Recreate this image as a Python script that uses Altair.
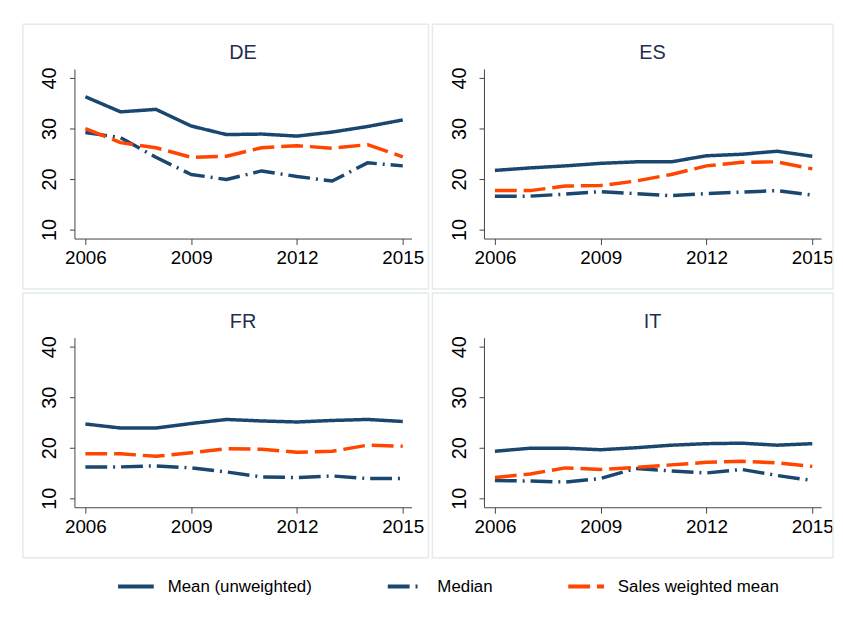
import altair as alt
import pandas as pd

years = list(range(2006, 2016))
countries = ["DE", "ES", "FR", "IT"]
series_names = ["Mean (unweighted)", "Median", "Sales weighted mean"]

de_mean = [36.3, 33.3, 33.8, 30.5, 28.8, 28.9, 28.5, 29.3, 30.4, 31.7]
de_median = [29.2, 28.2, 24.3, 20.9, 19.9, 21.6, 20.5, 19.6, 23.2, 22.6]
de_sales = [30.0, 27.2, 26.2, 24.3, 24.5, 26.2, 26.6, 26.1, 26.8, 24.4]

es_mean = [21.7, 22.2, 22.6, 23.1, 23.4, 23.4, 24.6, 24.9, 25.5, 24.5]
es_median = [16.6, 16.6, 17.0, 17.5, 17.1, 16.7, 17.1, 17.4, 17.7, 16.8]
es_sales = [17.7, 17.7, 18.6, 18.7, 19.6, 20.9, 22.6, 23.3, 23.4, 22.0]

fr_mean = [24.7, 23.9, 23.9, 24.8, 25.6, 25.3, 25.1, 25.4, 25.6, 25.2]
fr_median = [16.2, 16.2, 16.4, 16.0, 15.2, 14.2, 14.1, 14.4, 13.9, 13.9]
fr_sales = [18.8, 18.8, 18.3, 19.0, 19.8, 19.7, 19.1, 19.3, 20.5, 20.3]

it_mean = [19.3, 19.9, 19.9, 19.6, 20.0, 20.5, 20.8, 20.9, 20.5, 20.8]
it_median = [13.5, 13.4, 13.2, 13.9, 15.9, 15.4, 15.0, 15.7, 14.5, 13.5]
it_sales = [14.1, 14.8, 16.0, 15.7, 16.1, 16.6, 17.1, 17.3, 17.0, 16.3]

values = {
    "DE": [de_mean, de_median, de_sales],
    "ES": [es_mean, es_median, es_sales],
    "FR": [fr_mean, fr_median, fr_sales],
    "IT": [it_mean, it_median, it_sales],
}

rows = []
for c in countries:
    for s, vals in zip(series_names, values[c]):
        for y, v in zip(years, vals):
            rows.append({"country": c, "series": s, "year": y, "value": v})
df = pd.DataFrame(rows)

NAVY = "#1a476f"
ORANGE = "#ff4500"
FRAME = "#e4ebee"

color_scale = alt.Scale(domain=series_names, range=[NAVY, NAVY, ORANGE])
dash_scale = alt.Scale(domain=series_names, range=[[1, 0], [22, 6, 2, 6], [22, 7]])

legend = alt.Legend(
    title=None,
    orient="bottom",
    direction="horizontal",
    offset=7,
    symbolType="stroke",
    symbolSize=1296,
    symbolStrokeWidth=4,
    symbolOffset=42,
    labelFontSize=17,
    labelFont="Liberation Sans",
    labelColor="black",
    labelOffset=12,
    columnPadding=32,
    labelLimit=400,
)


def panel(country, right_edge):
    d = df[df["country"] == country]
    frame = alt.Chart(alt.Data(values=[{"name": country}])).mark_rect(
        fill="white", fillOpacity=0, stroke=FRAME, strokeWidth=1.5
    ).encode(
        x=alt.value(-52), x2=alt.value(right_edge), y=alt.value(-45), y2=alt.value(222)
    )
    title = alt.Chart(alt.Data(values=[{"name": country}])).mark_text(
        fontSize=20, font="Liberation Sans", color="#1f2e4f", align="center", baseline="alphabetic"
    ).encode(
        x=alt.value(170), y=alt.value(-10), text="name:N"
    )
    lines = alt.Chart(d).mark_line(strokeWidth=3.5, strokeJoin="round").encode(
        x=alt.X(
            "year:Q",
            scale=alt.Scale(domain=[2005.69, 2015.25], nice=False, zero=False),
            axis=alt.Axis(
                title=None,
                values=[2006, 2009, 2012, 2015],
                format="d",
                labelFontSize=19,
                tickSize=6,
                labelPadding=4,
                labelFlush=False,
            ),
        ),
        y=alt.Y(
            "value:Q",
            scale=alt.Scale(domain=[8.2, 41.8], nice=False, zero=False),
            axis=alt.Axis(
                title=None,
                values=[10, 20, 30, 40],
                labelFontSize=20,
                labelAngle=270,
                labelAlign="center",
                labelBaseline="bottom",
                tickSize=5,
                labelPadding=10,
            ),
        ),
        color=alt.Color("series:N", scale=color_scale, legend=legend),
        strokeDash=alt.StrokeDash("series:N", scale=dash_scale, legend=legend),
    )
    return alt.layer(frame, title, lines).properties(width=340, height=171)


chart = alt.vconcat(
    alt.hconcat(panel("DE", 357), panel("ES", 352), spacing=0),
    alt.hconcat(panel("FR", 357), panel("IT", 352), spacing=0),
    spacing=0,
).resolve_scale(color="shared", strokeDash="shared").configure(
    padding={"left": 13, "top": 12, "right": 0, "bottom": 0},
    font="Liberation Sans",
).configure_view(stroke="transparent").configure_axis(
    grid=False,
    domainColor="#444444",
    tickColor="#444444",
    labelColor="black",
    labelFont="Liberation Sans",
)

chart.save("out.html", embed_options={"renderer": "svg", "actions": False})
